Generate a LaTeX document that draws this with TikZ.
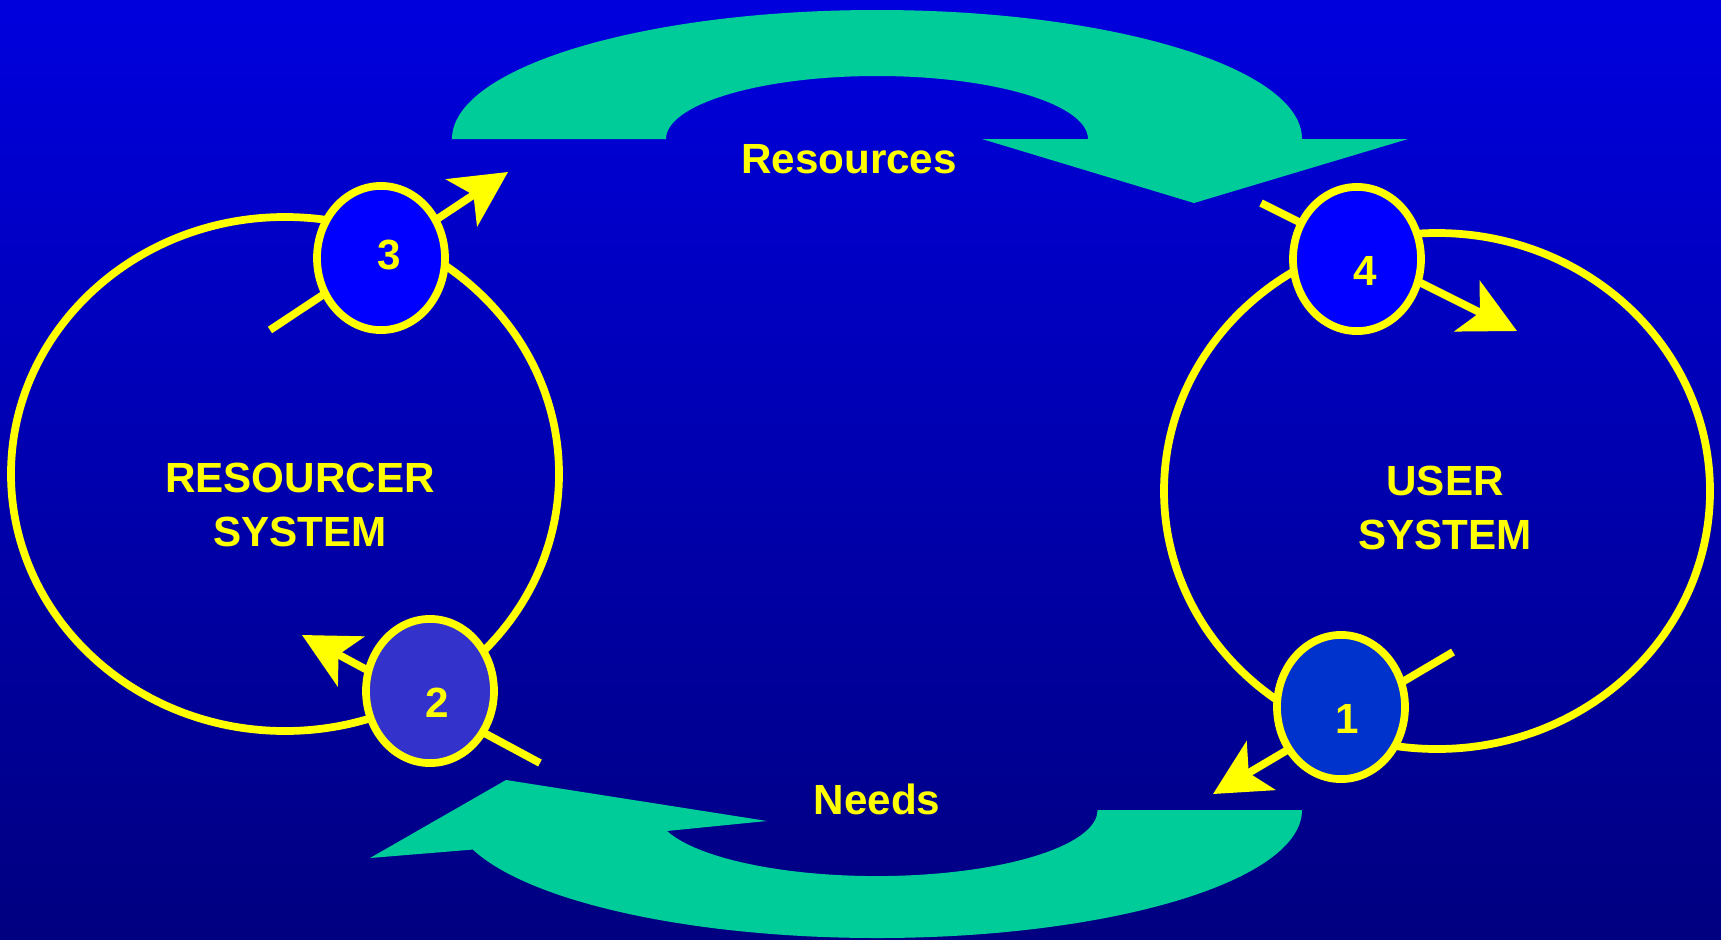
\documentclass[tikz,border=0pt]{standalone}
\usepackage{fontspec}
\setmainfont{Liberation Sans}
\usetikzlibrary{arrows.meta,shapes.geometric}

\definecolor{loopyellow}{RGB}{255,255,0}
\definecolor{flowgreen}{RGB}{0,204,153}
\definecolor{bgtop}{RGB}{0,0,222}
\definecolor{bgbottom}{RGB}{0,0,128}
\definecolor{hubblue}{RGB}{0,0,255}
\definecolor{hubviolet}{RGB}{51,51,204}
\definecolor{hubcobalt}{RGB}{0,51,204}

\begin{document}
\begin{tikzpicture}[x=0.01cm,y=-0.01cm,
  ring/.style={draw=loopyellow,line width=2.2pt},
  hub/.style={ellipse,draw=loopyellow,line width=2.2pt,minimum width=36.4pt,minimum height=41pt,inner sep=0pt},
  cue/.style={draw=loopyellow,line width=2.2pt,-{Stealth[length=15.8pt,width=16pt,inset=4pt]}},
  caption/.style={text=loopyellow,font=\fontsize{12}{15.1}\selectfont\bfseries,align=center},
  num/.style={text=loopyellow,font=\fontsize{12}{14}\selectfont\bfseries}]
% The background
\fill[top color=bgtop,bottom color=bgbottom] (0,0) rectangle (1721,939);
\useasboundingbox (0,0) rectangle (1721,939);

% The two broad arrows
\fill[flowgreen] (452,139) arc[start angle=180,end angle=360,x radius=425,y radius=129]
  -- (1408,139) -- (1194,203) -- (982,139) -- (1088,139)
  arc[start angle=0,end angle=-180,x radius=211,y radius=63] -- cycle;
\fill[flowgreen] (1302,810) arc[start angle=0,end angle=162,x radius=425,y radius=128]
  -- (370,858) -- (506,780) -- (767,821) -- (667,831)
  arc[start angle=161.5,end angle=0,x radius=221,y radius=66] -- cycle;

% The two systems
\draw[ring] (285,474) ellipse [x radius=274,y radius=257];
\draw[ring] (1437,491) ellipse [x radius=273,y radius=258];

% Ends of the small arrows
\coordinate (t1) at (1453,652);
\coordinate (h1) at (1213,794);
\coordinate (t2) at (540,763);
\coordinate (h2) at (302,635);
\coordinate (t3) at (270,330);
\coordinate (h3) at (508,172);
\coordinate (t4) at (1261,203);
\coordinate (h4) at (1517,331);
\foreach \k in {1,...,4}
  \draw[cue] (t\k) -- (h\k);

% The four steps
\node[hub,fill=hubcobalt,label={[num,xshift=1.7pt,yshift=-3.4pt]center:1}] (step1) at (1341,707) {};
\node[hub,fill=hubviolet,label={[num,xshift=2pt,yshift=-3.4pt]center:2}] (step2) at (430,691) {};
\node[hub,fill=hubblue,label={[num,xshift=2.3pt,yshift=0.8pt]center:3}] (step3) at (381,258) {};
\node[hub,fill=hubblue,label={[num,xshift=2.3pt,yshift=-3.4pt]center:4}] (step4) at (1357,259) {};

% Labels
\node[caption] (resourcer) at (300,505) {RESOURCER\\SYSTEM};
\node[caption] (user) at (1445,508) {USER\\SYSTEM};
\node[caption] (resources) at (849,159) {Resources};
\node[caption] (needs) at (877,799) {Needs};
\end{tikzpicture}
\end{document}
